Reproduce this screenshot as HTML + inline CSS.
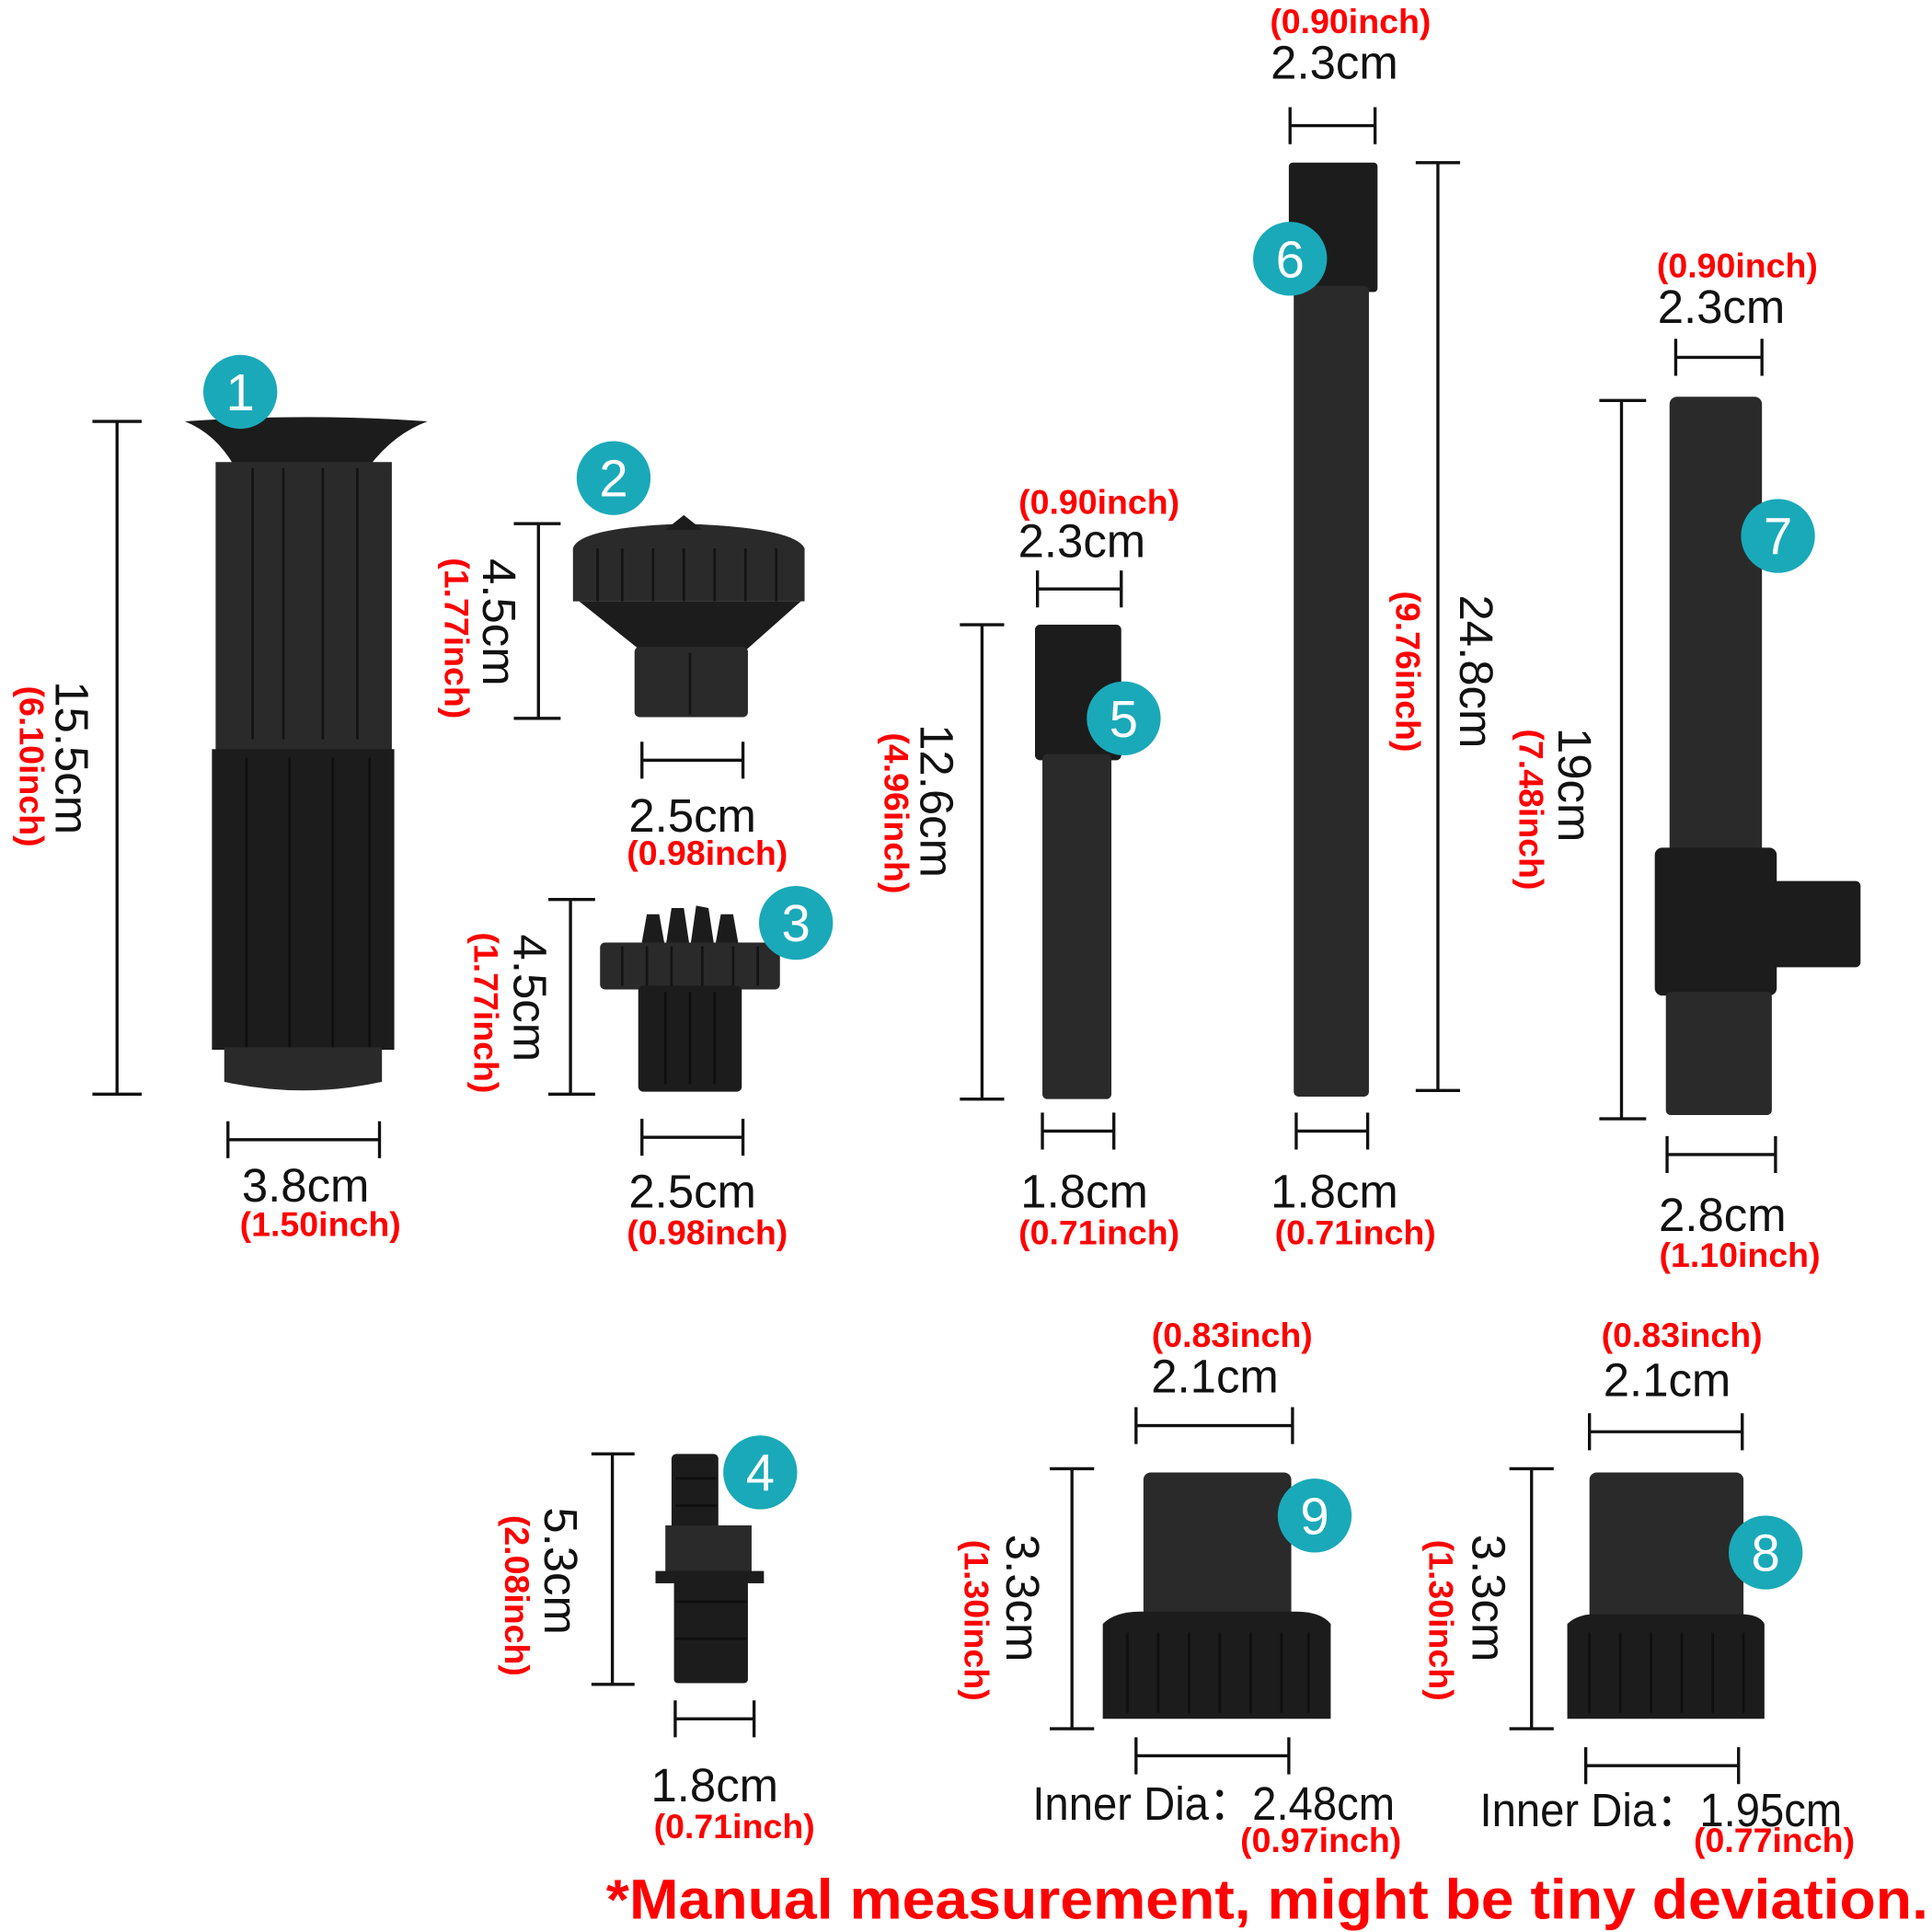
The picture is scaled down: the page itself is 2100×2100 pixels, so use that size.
<!DOCTYPE html>
<html><head><meta charset="utf-8"><style>html,body{margin:0;padding:0;background:#fff}svg{display:block}
.b{font-family:"Liberation Sans",sans-serif;font-size:38px;fill:#111;text-anchor:middle}
.r{font-family:"Liberation Sans",sans-serif;font-size:28px;font-weight:bold;fill:#f00;text-anchor:middle}
.d{stroke:#111;stroke-width:2.5;fill:none}
.p{fill:#1c1c1c}
.q{fill:#2a2a2a}
.g{stroke:#0a0a0a;stroke-width:2;fill:none;opacity:.7}
.bt{font-family:"Liberation Sans",sans-serif;font-size:42px;fill:#fff;text-anchor:middle}
</style></head><body>
<svg width="2100" height="2100" viewBox="0 0 1568 1568" xmlns="http://www.w3.org/2000/svg">
<rect width="1568" height="1568" fill="#fff"/>
<!-- Part 1 -->
<path class="p" d="M150 342 Q250 335 347 342 Q320 352 300 378 L190 378 Q175 352 150 342Z"/>
<rect class="q" x="175" y="375" width="143" height="237"/>
<rect class="p" x="172" y="608" width="148" height="244"/>
<path class="q" d="M182 850 H310 V878 Q246 892 182 878Z"/>
<path class="g" d="M205 380V600M230 380V600M262 380V600M290 380V600M200 615V850M235 615V850M270 615V850M300 615V850"/>
<circle cx="195" cy="318" r="30" fill="#1aa9b8"/><text class="bt" x="195" y="333">1</text>
<path class="d" d="M95 342V888M75 342H115M75 888H115M185 925H308M185 910V940M308 910V940"/>
<text class="b" transform="translate(45,615) rotate(90)">15.5cm</text>
<text class="r" transform="translate(16,622) rotate(90)">(6.10inch)</text>
<text class="b" x="248" y="975">3.8cm</text><text class="r" x="260" y="1003">(1.50inch)</text>
<!-- Part 2 -->
<path class="q" d="M465 445 Q470 428 555 425 Q645 428 653 445 V488 H465Z"/>
<path class="p" d="M540 430 L555 418 L570 430Z"/>
<path class="p" d="M470 488 H650 L605 528 H520Z"/>
<rect class="q" x="515" y="525" width="92" height="57" rx="4"/>
<path class="g" d="M485 445V488M505 445V488M530 445V488M555 445V488M580 445V488M605 445V488M630 445V488M560 530V580"/>
<circle cx="498" cy="388" r="30" fill="#1aa9b8"/><text class="bt" x="498" y="403">2</text>
<path class="d" d="M437 425V583M417 425H455M417 583H455M521 617H603M521 602V632M603 602V632"/>
<text class="b" transform="translate(392,505) rotate(90)">4.5cm</text>
<text class="r" transform="translate(361,518) rotate(90)">(1.77inch)</text>
<text class="b" x="562" y="675">2.5cm</text><text class="r" x="574" y="702">(0.98inch)</text>
<!-- Part 3 -->
<path class="p" d="M520 770 L525 742 L535 742 L540 770 L545 737 L555 737 L560 770 L565 735 L575 737 L580 770 L585 742 L595 742 L600 770Z"/>
<rect class="q" x="487" y="765" width="146" height="38" rx="4"/>
<rect class="p" x="518" y="800" width="84" height="86" rx="4"/>
<path class="g" d="M505 768V800M525 768V800M545 768V800M570 768V800M595 768V800M615 768V800M540 805V880M560 805V880M580 805V880"/>
<circle cx="646" cy="749" r="30" fill="#1aa9b8"/><text class="bt" x="646" y="764">3</text>
<path class="d" d="M463 730V888M445 730H483M445 888H483M521 923H603M521 908V938M603 908V938"/>
<text class="b" transform="translate(417,810) rotate(90)">4.5cm</text>
<text class="r" transform="translate(385,822) rotate(90)">(1.77inch)</text>
<text class="b" x="562" y="980">2.5cm</text><text class="r" x="574" y="1010">(0.98inch)</text>
<!-- Part 4 -->
<rect class="p" x="545" y="1180" width="38" height="62" rx="4"/>
<rect class="q" x="540" y="1238" width="70" height="38"/>
<rect class="p" x="532" y="1275" width="88" height="10"/>
<rect class="p" x="547" y="1283" width="60" height="83" rx="3"/>
<path class="g" d="M548 1200H582M548 1222H582M548 1300H606M548 1330H606"/>
<circle cx="617" cy="1195" r="30" fill="#1aa9b8"/><text class="bt" x="617" y="1210">4</text>
<path class="d" d="M497 1180V1367M480 1180H515M480 1367H515M548 1395H612M548 1380V1410M612 1380V1410"/>
<text class="b" transform="translate(442,1275) rotate(90)">5.3cm</text>
<text class="r" transform="translate(410,1295) rotate(90)">(2.08inch)</text>
<text class="b" x="580" y="1462">1.8cm</text><text class="r" x="596" y="1492">(0.71inch)</text>
<!-- Part 5 -->
<rect class="p" x="840" y="507" width="70" height="110" rx="4"/>
<rect class="q" x="846" y="612" width="56" height="280" rx="4"/>
<circle cx="912" cy="583" r="30" fill="#1aa9b8"/><text class="bt" x="912" y="598">5</text>
<path class="d" d="M797 507V892M779 507H815M779 892H815M842 478H910M842 463V493M910 463V493M846 918H904M846 903V933M904 903V933"/>
<text class="b" transform="translate(747,650) rotate(90)">12.6cm</text>
<text class="r" transform="translate(718,660) rotate(90)">(4.96inch)</text>
<text class="b" x="878" y="452">2.3cm</text><text class="r" x="892" y="417">(0.90inch)</text>
<text class="b" x="880" y="980">1.8cm</text><text class="r" x="892" y="1010">(0.71inch)</text>
<!-- Part 6 -->
<rect class="p" x="1046" y="132" width="72" height="105" rx="3"/>
<rect class="q" x="1050" y="232" width="61" height="658" rx="4"/>
<circle cx="1047" cy="210" r="30" fill="#1aa9b8"/><text class="bt" x="1047" y="225">6</text>
<path class="d" d="M1047 102H1116M1047 87V117M1116 87V117M1167 132V885M1149 132H1185M1149 885H1185M1052 918H1110M1052 903V933M1110 903V933"/>
<text class="b" x="1083" y="64">2.3cm</text><text class="r" x="1096" y="27">(0.90inch)</text>
<text class="b" transform="translate(1185,545) rotate(90)">24.8cm</text>
<text class="r" transform="translate(1133,545) rotate(90)">(9.76inch)</text>
<text class="b" x="1083" y="980">1.8cm</text><text class="r" x="1100" y="1010">(0.71inch)</text>
<!-- Part 7 -->
<rect class="q" x="1355" y="322" width="75" height="372" rx="6"/>
<rect class="p" x="1343" y="688" width="99" height="120" rx="6"/>
<rect class="p" x="1435" y="715" width="75" height="70" rx="4"/>
<rect class="q" x="1352" y="805" width="86" height="100" rx="4"/>
<circle cx="1443" cy="435" r="30" fill="#1aa9b8"/><text class="bt" x="1443" y="450">7</text>
<path class="d" d="M1360 290H1430M1360 275V305M1430 275V305M1316 325V908M1298 325H1336M1298 908H1336M1353 937H1441M1353 922V952M1441 922V952"/>
<text class="b" x="1397" y="262">2.3cm</text><text class="r" x="1410" y="225">(0.90inch)</text>
<text class="b" transform="translate(1265,637) rotate(90)">19cm</text>
<text class="r" transform="translate(1233,657) rotate(90)">(7.48inch)</text>
<text class="b" x="1398" y="999">2.8cm</text><text class="r" x="1412" y="1028">(1.10inch)</text>
<!-- Part 9 -->
<rect class="q" x="928" y="1195" width="120" height="125" rx="6"/>
<path class="p" d="M895 1318 Q905 1308 925 1308 H1052 Q1072 1308 1080 1318 V1395 H895Z"/>
<path class="g" d="M915 1325V1390M940 1325V1390M965 1325V1390M990 1325V1390M1015 1325V1390M1040 1325V1390M1062 1325V1390"/>
<circle cx="1067" cy="1230" r="30" fill="#1aa9b8"/><text class="bt" x="1067" y="1245">9</text>
<path class="d" d="M922 1157H1049M922 1142V1172M1049 1142V1172M870 1192V1403M852 1192H888M852 1403H888M922 1425H1046M922 1410V1440M1046 1410V1440"/>
<text class="b" x="986" y="1130">2.1cm</text><text class="r" x="1000" y="1093">(0.83inch)</text>
<text class="b" transform="translate(817,1297) rotate(90)">3.3cm</text>
<text class="r" transform="translate(783,1315) rotate(90)">(1.30inch)</text>
<text class="b" x="985" y="1477" textLength="294" lengthAdjust="spacingAndGlyphs">Inner Dia：2.48cm</text><text class="r" x="1072" y="1503">(0.97inch)</text>
<!-- Part 8 -->
<rect class="q" x="1290" y="1195" width="125" height="125" rx="6"/>
<path class="p" d="M1272 1318 Q1280 1310 1295 1310 H1412 Q1428 1310 1432 1318 V1395 H1272Z"/>
<path class="g" d="M1290 1325V1390M1315 1325V1390M1340 1325V1390M1365 1325V1390M1390 1325V1390M1415 1325V1390"/>
<circle cx="1433" cy="1260" r="30" fill="#1aa9b8"/><text class="bt" x="1433" y="1275">8</text>
<path class="d" d="M1290 1162H1414M1290 1147V1177M1414 1147V1177M1243 1192V1403M1225 1192H1261M1225 1403H1261M1287 1433H1411M1287 1418V1448M1411 1418V1448"/>
<text class="b" x="1353" y="1133">2.1cm</text><text class="r" x="1365" y="1093">(0.83inch)</text>
<text class="b" transform="translate(1195,1297) rotate(90)">3.3cm</text>
<text class="r" transform="translate(1160,1315) rotate(90)">(1.30inch)</text>
<text class="b" x="1348" y="1482" textLength="294" lengthAdjust="spacingAndGlyphs">Inner Dia：1.95cm</text><text class="r" x="1440" y="1503">(0.77inch)</text>
<!-- footer -->
<text x="492" y="1557" font-family="Liberation Sans, sans-serif" font-size="46" font-weight="bold" fill="#f00" textLength="1073" lengthAdjust="spacingAndGlyphs">*Manual measurement, might be tiny deviation.</text>
</svg>
</body></html>
